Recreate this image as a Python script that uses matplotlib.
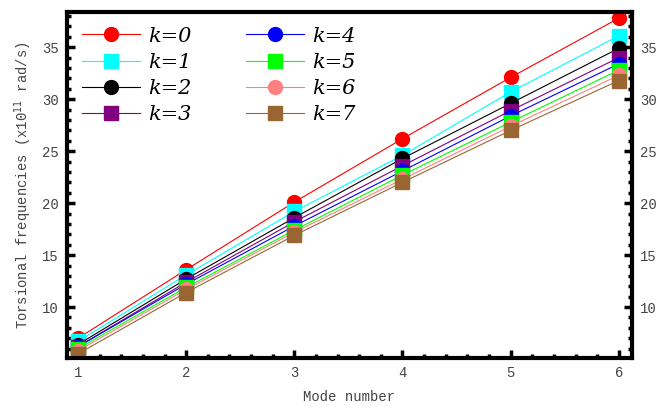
import matplotlib.pyplot as plt
import numpy as np
from matplotlib.ticker import MultipleLocator

modes = [1, 2, 3, 4, 5, 6]
k0 = [7.0, 13.6, 20.1, 26.2, 32.1, 37.8]
k1 = [6.7, 13.1, 19.2, 24.6, 30.7, 36.1]
k2 = [6.4, 12.7, 18.6, 24.3, 29.6, 34.9]
k3 = [6.2, 12.4, 18.2, 23.6, 28.9, 34.0]
k4 = [6.2, 12.2, 17.8, 23.1, 28.4, 33.4]
k5 = [6.0, 11.9, 17.4, 22.7, 27.8, 32.8]
k6 = [5.8, 11.7, 17.2, 22.3, 27.4, 32.3]
k7 = [5.5, 11.4, 16.9, 22.0, 27.0, 31.8]
series = [k0, k1, k2, k3, k4, k5, k6, k7]
labels = ["k=0", "k=1", "k=2", "k=3", "k=4", "k=5", "k=6", "k=7"]

colors = ["#ff0000", "#00ffff", "#000000", "#800080",
          "#0000ff", "#00ff00", "#ff8080", "#996633"]
markers = ["o", "s", "o", "s", "o", "s", "o", "s"]
mono = "Liberation Mono"

fig = plt.figure(figsize=(6.65, 4.12), dpi=100)
ax = fig.add_axes([0.101, 0.131, 0.849, 0.840])

for ys, lab, c, m in zip(series, labels, colors, markers):
    ax.plot(modes, ys, color=c, lw=0.8, marker=m,
            markersize=10 if m == "o" else 9.5, label=lab)

ax.set_xlim(0.9, 6.12)
ax.set_ylim(5.1, 38.4)
ax.xaxis.set_major_locator(MultipleLocator(1))
ax.xaxis.set_minor_locator(MultipleLocator(0.2))
ax.yaxis.set_major_locator(MultipleLocator(5))
ax.yaxis.set_minor_locator(MultipleLocator(1))
ax.set_yticks([10, 15, 20, 25, 30, 35])

for s in ax.spines.values():
    s.set_linewidth(3)
ax.tick_params(which="both", direction="in", right=True, labelright=True,
               top=False, colors="black", labelcolor="#444444",
               labelsize=10, pad=6)
ax.tick_params(which="major", length=6, width=2.5)
ax.tick_params(which="minor", length=3, width=2.5)
for t in ax.get_xticklabels() + ax.get_yticklabels():
    t.set_family(mono)

ax.set_xlabel("Mode number", family=mono, color="#444444", fontsize=10, labelpad=7)
ax.set_ylabel("Torsional frequencies (x10$^{11}$ rad/s)", family=mono,
              color="#444444", fontsize=10, labelpad=6)

leg = ax.legend(ncol=2, loc="upper left", frameon=False,
                prop={"family": "DejaVu Serif", "style": "italic", "size": 15},
                handlelength=2.8, columnspacing=2.6, labelspacing=0.35,
                borderaxespad=0.3, handletextpad=0.4)

fig.savefig("out.png", dpi=100)
